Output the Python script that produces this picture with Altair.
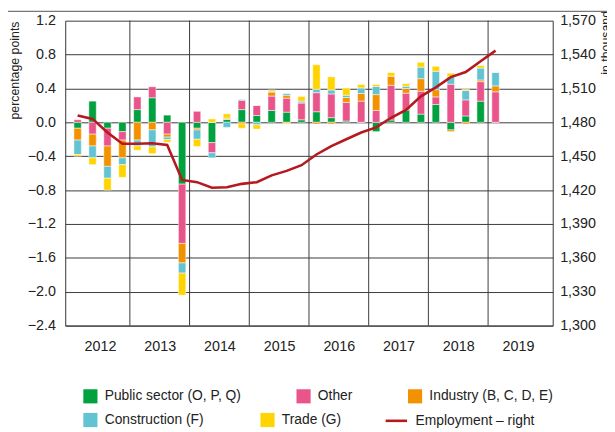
import json
import altair as alt
import pandas as pd

FONT = "Liberation Sans, Arial, sans-serif"

years = ["2012", "2013", "2014", "2015", "2016", "2017", "2018", "2019"]
quarters = [f"{y}Q{q}" for y in years[:-1] for q in range(1, 5)] + ["2019Q1"]

sectors = ["Public sector (O, P, Q)", "Other", "Industry (B, C, D, E)",
           "Construction (F)", "Trade (G)"]
sector_colors = ["#00a13e", "#e9548a", "#f39200", "#62c3d3", "#ffd400"]

public = [-0.07, 0.25, -0.07, -0.11,
          0.15, 0.29, 0.085, -0.73,
          -0.07, -0.24, 0.035, 0.15,
          0.08, 0.14, 0.12, 0.03,
          0.125, 0.055, 0.015, 0.0,
          -0.11, 0.027, 0.144, 0.097,
          0.21, -0.09, 0.075, 0.25,
          0.0]
other = [0.03, -0.14, -0.21, -0.10,
         0.15, 0.13, -0.14, -0.70,
         0.13, -0.12, 0.005, 0.11,
         0.12, 0.17, 0.165, 0.20,
         0.225, 0.28, 0.22, 0.25,
         0.14, 0.41, 0.20, 0.27,
         0.09, 0.45, 0.19, 0.23,
         0.36]
industry = [-0.14, -0.14, -0.24, -0.21,
            -0.21, -0.09, -0.035, -0.23,
            -0.02, 0.0, 0.01, -0.02,
            0.0, 0.047, 0.035, 0.0,
            -0.02, -0.02, 0.058, 0.09,
            0.187, 0.11, 0.055, 0.148,
            0.085, -0.02, -0.02, 0.02,
            0.07]
construction = [-0.17, -0.14, -0.14, -0.08,
                -0.07, -0.20, -0.03, -0.12,
                -0.11, -0.06, -0.06, 0.01,
                -0.03, 0.01, 0.02, 0.02,
                0.04, 0.047, 0.027, 0.066,
                0.097, 0.0, 0.027, 0.136,
                0.218, 0.09, 0.11, 0.14,
                0.16]
trade = [-0.02, -0.08, -0.14, -0.15,
         -0.05, -0.08, -0.03, -0.26,
         -0.085, 0.04, 0.05, -0.05,
         -0.05, 0.015, -0.015, 0.055,
         0.29, 0.155, 0.085, 0.04,
         0.023, 0.04, 0.03, 0.058,
         0.058, 0.04, 0.015, 0.03,
         0.0]
employment = [1486, 1483, 1471, 1461,
              1461, 1461.5, 1460, 1429,
              1427, 1422, 1422.5, 1425.5,
              1427, 1433, 1437, 1442,
              1451.5, 1459, 1465, 1471,
              1475.5, 1484, 1491, 1503,
              1511, 1520, 1524.5, 1534,
              1543.5]
line_name = "Employment \u2013 right"
line_color = "#b5191f"

left_ticks = [-2.4, -2.0, -1.6, -1.2, -0.8, -0.4, 0.0, 0.4, 0.8, 1.2]
right_ticks = [1300, 1330, 1360, 1390, 1420, 1450, 1480, 1510, 1540, 1570]

# ---- tables ----
series = [public, other, industry, construction, trade]
rows = []
for i, q in enumerate(quarters):
    for k, s in enumerate(sectors):
        rows.append({"quarter": q, "t": i + 0.5, "sector": s, "ord": k,
                     "value": series[k][i]})
bars_df = pd.DataFrame(rows)
line_df = pd.DataFrame({"quarter": quarters,
                        "t": [i + 0.5 for i in range(len(quarters))],
                        "employment": employment,
                        "series": line_name})
bounds_df = pd.DataFrame({"t": [4 * k for k in range(1, len(years))]})
legend_row1 = pd.DataFrame({"sector": sectors[:3]})
legend_row2 = pd.DataFrame({"sector": sectors[3:]})

n_slots = 4 * len(years)
x_axis = alt.Axis(values=[4 * k + 2 for k in range(len(years))],
                  labelExpr=f"{json.dumps(years)}[floor(datum.value / 4)]",
                  title=None, grid=False, ticks=False, domainColor="#333",
                  labelPadding=14)
x_enc = alt.X("t:Q", scale=alt.Scale(domain=[0, n_slots], nice=False, zero=False),
              axis=x_axis)

GRID = "#3a3a3a"

rules = alt.Chart(bounds_df).mark_rule(color=GRID, strokeWidth=1).encode(x=x_enc)

top_line = alt.Chart(bounds_df.head(1)).mark_rule(color="#777", strokeWidth=1.2).encode(
    x=alt.value(-58), x2=alt.value(549), y=alt.value(-9.4))

bars = alt.Chart(bars_df).mark_bar(size=7.5, stroke="white", strokeWidth=0.5).encode(
    x=x_enc,
    y=alt.Y("value:Q", stack="zero",
            scale=alt.Scale(domain=[-2.4, 1.2], nice=False, zero=False),
            axis=alt.Axis(values=left_ticks, grid=True, gridColor=GRID, gridOpacity=1,
                          ticks=False, domainColor="#333", labelPadding=10,
                          labelExpr="replace(format(datum.value, '.1f'), '-', '\u2212')",
                          title="percentage points", titleAngle=270,
                          titleX=-57, titleY=50, titleAlign="center",
                          titleBaseline="top", titleFontWeight="normal",
                          titleFontSize=12.5)),
    color=alt.Color("sector:N", scale=alt.Scale(domain=sectors, range=sector_colors),
                    legend=None),
    order=alt.Order("ord:Q", sort="ascending"),
)


def legend_row(df, names, colors, lx, ly, colpad):
    return alt.Chart(df).mark_square(size=1).encode(
        opacity=alt.value(0),
        fill=alt.Fill("sector:N", scale=alt.Scale(domain=names, range=colors),
                      legend=alt.Legend(orient="none", legendX=lx, legendY=ly,
                                        direction="horizontal", columnPadding=colpad,
                                        symbolType="square", symbolSize=205,
                                        symbolStrokeWidth=0, symbolOpacity=1,
                                        labelOffset=7, labelLimit=400,
                                        padding=0, title=None)),
    )


leg1 = legend_row(legend_row1, sectors[:3], sector_colors[:3], 18, 373, 55)
leg2 = legend_row(legend_row2, sectors[3:], sector_colors[3:], 18, 397, 56.5)

line = alt.Chart(line_df).mark_line(strokeWidth=2.6).encode(
    x=x_enc,
    y=alt.Y("employment:Q",
            scale=alt.Scale(domain=[1300, 1570], nice=False, zero=False),
            axis=alt.Axis(values=right_ticks, orient="right", format=",.0f",
                          grid=False, ticks=False, domainColor="#333", labelPadding=7,
                          title="in thousand", titleAngle=270, titleX=48, titleY=22,
                          titleAlign="center", titleBaseline="top",
                          titleFontWeight="normal", titleFontSize=12.5)),
    stroke=alt.Stroke("series:N", scale=alt.Scale(domain=[line_name], range=[line_color]),
                      legend=alt.Legend(orient="none", legendX=323, legendY=393,
                                        symbolType="stroke", symbolSize=467,
                                        symbolStrokeWidth=2.6, labelOffset=7,
                                        labelLimit=400, padding=0, title=None)),
)

chart = alt.layer(top_line, rules, bars, line, leg1, leg2).resolve_scale(
    y="independent", fill="independent"
).properties(
    width=494, height=309,
    padding={"left": 58, "top": 10, "right": 55, "bottom": 106},
    autosize=alt.AutoSizeParams(type="none"),
).configure(font=FONT).configure_axis(
    labelFont=FONT, labelFontSize=14.5, labelColor="#222", titleFont=FONT,
    titleColor="#222"
).configure_legend(
    labelFont=FONT, labelFontSize=14, labelColor="#222"
).configure_view(stroke=None)

chart.save("out.html", embed_options={"renderer": "svg", "actions": False})
